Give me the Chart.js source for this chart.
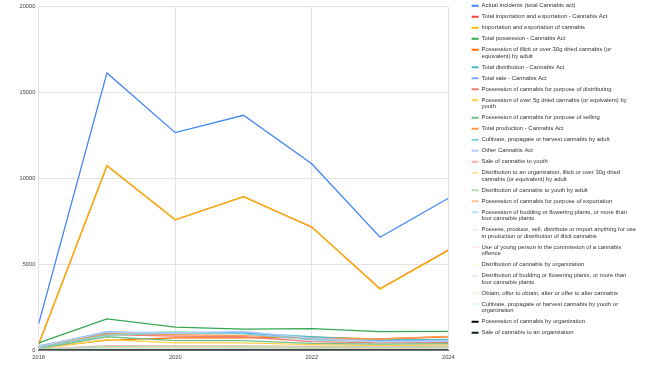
<!DOCTYPE html>
<html>
<head>
<meta charset="utf-8">
<script src="https://cdn.jsdelivr.net/npm/chart.js@4.4.1/dist/chart.umd.min.js"></script>
<style>
  html, body { margin: 0; padding: 0; background: #ffffff; }
  #wrap { width: 658px; height: 370px; }
</style>
</head>
<body>
<div id="wrap"><canvas id="c" width="658" height="370"></canvas></div>
<script>
// ---- data ----
const years = [2018, 2019, 2020, 2021, 2022, 2023, 2024];
const xTickValues = [2018, 2020, 2022, 2024];
const yTickValues = [0, 5000, 10000, 15000, 20000];

const actualIncidents        = [1550, 16150, 12670, 13680, 10860, 6580, 8850];
const totalImportExport      = [340, 10740, 7590, 8940, 7170, 3575, 5830];
const importExport           = [350, 10750, 7595, 8945, 7173, 3555, 5805];
const totalPossession        = [420, 1825, 1345, 1230, 1250, 1075, 1095];
const possIllicitAdult       = [120, 580, 720, 710, 750, 650, 780];
const totalDistribution      = [250, 1000, 1050, 1000, 780, 600, 620];
const totalSale              = [200, 1080, 950, 1050, 650, 560, 600];
const possDistributing       = [150, 900, 820, 780, 500, 420, 450];
const possYouth              = [80, 620, 430, 420, 320, 270, 300];
const possSelling            = [100, 780, 560, 560, 400, 350, 380];
const totalProduction        = [180, 950, 900, 850, 700, 650, 800];
const cultivateAdult         = [150, 880, 1000, 950, 600, 500, 560];
const otherCannabisAct       = [220, 1050, 1000, 1100, 700, 480, 520];
const saleToYouth            = [60, 260, 250, 250, 220, 190, 230];
const distribToOrg           = [40, 180, 200, 220, 150, 120, 130];
const distribToYouth         = [50, 200, 220, 200, 180, 160, 170];
const possExportation        = [20, 100, 120, 110, 90, 70, 80];
const possBuddingPlants      = [30, 90, 80, 80, 60, 50, 60];
const possessProduceIllicit  = [10, 40, 50, 40, 30, 30, 30];
const useYoungPerson         = [5, 20, 20, 20, 15, 10, 10];
const distribByOrg           = [5, 20, 25, 20, 15, 15, 10];
const distribBuddingPlants   = [10, 40, 35, 30, 25, 20, 20];
const obtainAlter            = [2, 10, 10, 8, 6, 5, 5];
const cultivateYouthOrg      = [5, 20, 20, 15, 12, 10, 10];
const possByOrg              = [0, 0, 0, 0, 0, 0, 0];
const saleToOrg              = [0, 0, 0, 0, 0, 0, 0];

const seriesNames = [
  "Actual incidents (total Cannabis act)",
  "Total importation and exportation - Cannabis Act",
  "Importation and exportation of cannabis",
  "Total possession - Cannabis Act",
  "Possession of illicit or over 30g dried cannabis (or\nequivalent) by adult",
  "Total distribution - Cannabis Act",
  "Total sale - Cannabis Act",
  "Possession of cannabis for purpose of distributing",
  "Possession of over 5g dried cannabis (or equivalent) by\nyouth",
  "Possession of cannabis for purpose of selling",
  "Total production - Cannabis Act",
  "Cultivate, propagate or harvest cannabis by adult",
  "Other Cannabis Act",
  "Sale of cannabis to youth",
  "Distribution to an organization, illicit or over 30g dried\ncannabis (or equivalent) by adult",
  "Distribution of cannabis to youth by adult",
  "Possession of cannabis for purpose of exportation",
  "Possession of budding or flowering plants, or more than\nfour cannabis plants",
  "Possess, produce, sell, distribute or import anything for use\nin production or distribution of illicit cannabis",
  "Use of young person in the commission of a cannabis\noffence",
  "Distribution of cannabis by organization",
  "Distribution of budding or flowering plants, or more than\nfour cannabis plants",
  "Obtain, offer to obtain, alter or offer to alter cannabis",
  "Cultivate, propagate or harvest cannabis by youth or\norganization",
  "Possession of cannabis by organization",
  "Sale of cannabis to an organization"
];

const seriesValues = [
  actualIncidents, totalImportExport, importExport, totalPossession, possIllicitAdult,
  totalDistribution, totalSale, possDistributing, possYouth, possSelling,
  totalProduction, cultivateAdult, otherCannabisAct, saleToYouth, distribToOrg,
  distribToYouth, possExportation, possBuddingPlants, possessProduceIllicit, useYoungPerson,
  distribByOrg, distribBuddingPlants, obtainAlter, cultivateYouthOrg, possByOrg, saleToOrg
];

// ---- style ----
const seriesColors = [
  "#4285F4", "#EA4335", "#FBBC04", "#34A853", "#FF6D01", "#46BDC6",
  "#7BAAF7", "#F07B72", "#FCD04F", "#71C287", "#FF994D", "#7ED1D7",
  "#B3CEFB", "#F7B4AE", "#FDE49B", "#AEDCBA", "#FFC599", "#B5E8EB",
  "#E8F0FE", "#FCE8E6", "#FEF7E0", "#E6F4EA", "#FEEFE3", "#E4F7FB",
  "#000000", "#0E1C22"
];

Chart.defaults.font.family = "'Liberation Sans', Arial, sans-serif";
Chart.defaults.font.size = 5.5;
Chart.defaults.color = "#444";

const n = seriesValues.length;
const datasets = seriesValues.map((vals, i) => ({
  label: seriesNames[i],
  data: years.map((yr, k) => ({ x: yr, y: vals[k] })),
  borderColor: seriesColors[i],
  backgroundColor: seriesColors[i],
  borderWidth: 1.3,
  pointRadius: 0,
  pointHoverRadius: 0,
  tension: 0,
  order: n - i
}));

const CHART_RIGHT = 448.3;
const LEGEND_LEFT = 466.5;
const LEGEND_TOP = -2.2;

const layoutPlugin = {
  id: 'layoutTweak',
  beforeUpdate(chart) {
    const lg = chart.legend;
    if (lg && !lg._patched) {
      const orig = lg.fit;
      lg.fit = function () {
        orig.call(this);
        this.width = chart.width - CHART_RIGHT;
      };
      lg._patched = true;
    }
  },
  afterLayout(chart) {
    const lg = chart.legend;
    if (!lg) return;
    const w = lg.right - lg.left;
    const h = lg.bottom - lg.top;
    lg.left = LEGEND_LEFT;
    lg.right = LEGEND_LEFT + w;
    lg.top = LEGEND_TOP;
    lg.bottom = LEGEND_TOP + h;
  }
};

new Chart(document.getElementById('c'), {
  type: 'line',
  data: { datasets },
  plugins: [layoutPlugin],
  options: {
    responsive: false,
    devicePixelRatio: 1,
    animation: false,
    layout: { padding: { top: 6.7, bottom: 6, left: 0, right: 0 } },
    plugins: {
      tooltip: { enabled: false },
      legend: {
        position: 'right',
        align: 'start',
        labels: {
          boxWidth: 7,
          boxHeight: 2,
          padding: 5.1,
          color: '#333',
          font: { size: 5.9, lineHeight: 1.05 },
          sort: (a, b) => a.datasetIndex - b.datasetIndex,
          generateLabels(chart) {
            const items = Chart.defaults.plugins.legend.labels.generateLabels(chart);
            return items.map(it => {
              const parts = String(it.text).split('\n');
              return Object.assign({}, it, {
                text: parts.length > 1 ? parts : parts[0],
                lineWidth: 0,
                fillStyle: it.strokeStyle
              });
            });
          }
        }
      }
    },
    scales: {
      x: {
        type: 'linear',
        min: years[0],
        max: years[years.length - 1],
        afterBuildTicks(scale) { scale.ticks = xTickValues.map(v => ({ value: v })); },
        ticks: {
          padding: 3.5,
          maxRotation: 0,
          color: '#444',
          font: { size: 5.7 },
          callback: v => String(v)
        },
        grid: { color: '#e3e3e3', lineWidth: 1, drawTicks: false },
        border: { display: true, color: '#333', width: 1 }
      },
      y: {
        min: 0,
        max: 20000,
        afterBuildTicks(scale) { scale.ticks = yTickValues.map(v => ({ value: v })); },
        afterFit(scale) { scale.width = 38.7; },
        ticks: {
          padding: 3.4,
          color: '#444',
          font: { size: 5.7 },
          callback: v => String(v)
        },
        grid: { color: '#e3e3e3', lineWidth: 1, drawTicks: false },
        border: { display: false }
      }
    }
  }
});
</script>
</body>
</html>
